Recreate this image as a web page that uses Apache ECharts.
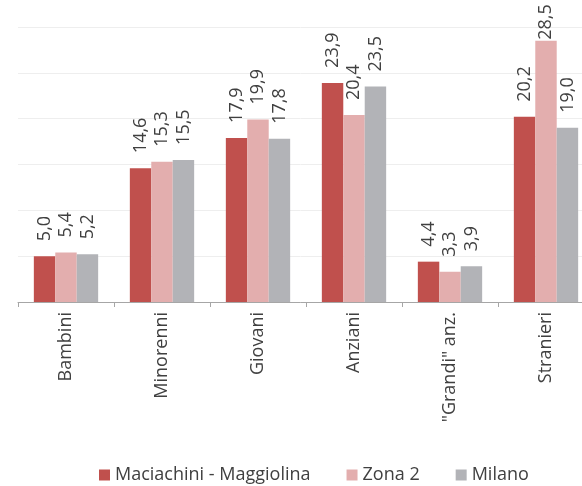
<!DOCTYPE html>
<html>
<head>
<meta charset="utf-8">
<script src="https://cdn.jsdelivr.net/npm/echarts@6/dist/echarts.min.js"></script>
<style>
    html, body { margin: 0; padding: 0; background: #fff; }
    #chart { width: 582px; height: 486px; }
</style>
</head>
<body>
<div id="chart"></div>
<script>
// dati
const categories = ['Bambini', 'Minorenni', 'Giovani', 'Anziani', '"Grandi" anz.', 'Stranieri'];
const maciachini = [5.0, 14.6, 17.9, 23.9, 4.4, 20.2];
const zona2 = [5.4, 15.3, 19.9, 20.4, 3.3, 28.5];
const milano = [5.2, 15.5, 17.8, 23.5, 3.9, 19.0];

const FONT = 'Open Sans';
const chart = echarts.init(document.getElementById('chart'));

// etichetta valore con la virgola
function labelConf() {
    return {
        show: true,
        position: 'top',
        rotate: 90,
        align: 'left',
        verticalAlign: 'middle',
        distance: 15,
        fontFamily: FONT,
        fontSize: 18,
        color: '#404040',
        formatter: p => p.value.toFixed(1).replace('.', ',')
    };
}

function makeSeries(name, data, color) {
    return {
        name,
        type: 'bar',
        // la barra più alta ha l'etichetta attaccata (non c'è spazio sopra)
        data: data.map(v => v >= 28 ? { value: v, label: { distance: 1 } } : v),
        barGap: '0%',
        barCategoryGap: '33%',
        itemStyle: { color },
        label: labelConf()
    };
}

chart.setOption({
    animation: false,
    grid: {
        left: 18, width: 576, top: 27, bottom: 184,
        containLabel: false, outerBoundsMode: 'none'
    },
    legend: {
        left: 94,
        top: 461,
        icon: 'rect',
        itemWidth: 11,
        itemHeight: 11,
        itemGap: 36,
        textStyle: { fontFamily: FONT, fontSize: 18, color: '#404040' },
        data: ['Maciachini - Maggiolina', 'Zona 2', 'Milano']
    },
    xAxis: {
        type: 'category',
        data: categories,
        axisLine: { lineStyle: { color: '#A6A6A6', width: 1 } },
        axisTick: { show: true, length: 5, lineStyle: { color: '#A6A6A6' } },
        axisLabel: {
            rotate: 90,
            margin: 10,
            fontFamily: FONT,
            fontSize: 18,
            color: '#404040'
        }
    },
    yAxis: {
        type: 'value',
        min: 0,
        max: 30,
        interval: 5,
        axisLabel: { show: false },
        axisLine: { show: false },
        axisTick: { show: false },
        splitLine: { lineStyle: { color: '#EEEEEE', width: 1 } }
    },
    series: [
        makeSeries('Maciachini - Maggiolina', maciachini, '#C0504D'),
        makeSeries('Zona 2', zona2, '#E3AEAE'),
        makeSeries('Milano', milano, '#B2B3B7')
    ]
});
</script>
</body>
</html>
